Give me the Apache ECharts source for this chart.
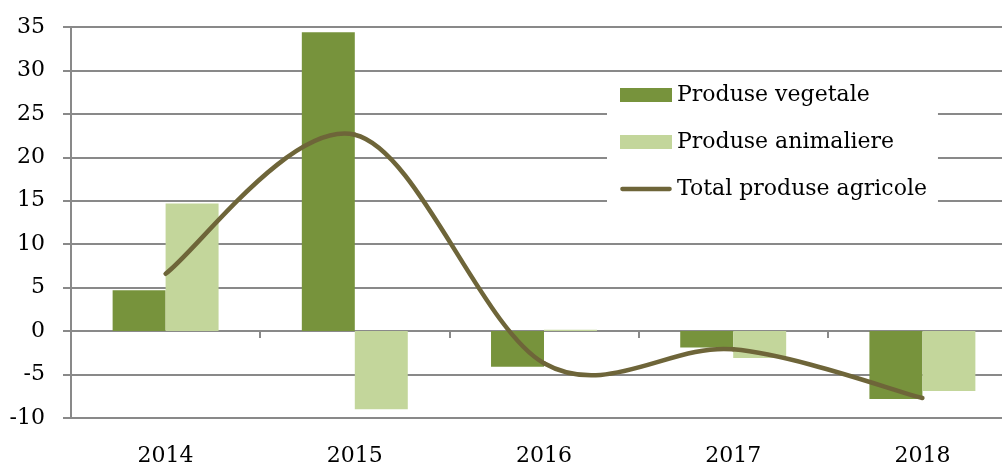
<!DOCTYPE html>
<html lang="ro">
<head>
    <meta charset="UTF-8">
    <script src="https://cdn.jsdelivr.net/npm/echarts@6/dist/echarts.min.js"></script>
    <title>Produse agricole</title>
    <style>
        html, body { margin: 0; padding: 0; background: #fff; }
    </style>
</head>
<body>
    <div id="chart" style="width: 1002px;height:463px;"></div>
</body>
<script type="text/javascript">
    // date
    var years = ['2014', '2015', '2016', '2017', '2018'];
    var vegetale = [4.7, 34.4, -4.1, -1.9, -7.8];
    var animaliere = [14.7, -9.0, 0.15, -3.1, -6.9];
    var totalAgricol = [6.6, 22.6, -3.7, -2.1, -7.7];
    var yTicks = { min: -10, max: 35, interval: 5 };

    var gridColor = '#898989';
    var lineColor = '#6e6539';
    var font = 'DejaVu Serif';

    // linia neteda ca in Excel (Catmull-Rom), punctele vin din api.coord
    function renderTotal(params, api) {
        var i = params.dataIndex;
        var n = totalAgricol.length;
        if (i >= n - 1) return null;
        function pt(k) {
            k = Math.max(0, Math.min(n - 1, k));
            return api.coord([k, totalAgricol[k]]);
        }
        var p0 = pt(i - 1), p1 = pt(i), p2 = pt(i + 1), p3 = pt(i + 2);
        var c1 = [p1[0] + (p2[0] - p0[0]) / 6, p1[1] + (p2[1] - p0[1]) / 6];
        var c2 = [p2[0] - (p3[0] - p1[0]) / 6, p2[1] - (p3[1] - p1[1]) / 6];
        return {
            type: 'bezierCurve',
            shape: {
                x1: p1[0], y1: p1[1],
                cpx1: c1[0], cpy1: c1[1],
                cpx2: c2[0], cpy2: c2[1],
                x2: p2[0], y2: p2[1]
            },
            style: { stroke: lineColor, lineWidth: 4.5, fill: null, lineCap: 'round' }
        };
    }

    var chart = echarts.init(document.getElementById('chart'));
    chart.setOption({
        animation: false,
        textStyle: { fontFamily: font },
        grid: { left: 71, width: 946, top: 27, bottom: 45, outerBoundsMode: 'none', containLabel: false },
        legend: {
            orient: 'vertical',
            left: 607,
            top: 76,
            padding: [6, 11, 11, 13],
            backgroundColor: '#fff',
            itemWidth: 52,
            itemHeight: 14,
            itemGap: 21,
            textStyle: { fontFamily: font, fontSize: 22, color: '#000', lineHeight: 26 },
            data: [
                { name: 'Produse vegetale', icon: 'rect' },
                { name: 'Produse animaliere', icon: 'rect' },
                {
                    name: 'Total produse agricole',
                    icon: 'path://M0,0 L0,0 M56,14 L56,14 M2.5,4.7 L53.5,4.7 A2.3,2.3 0 0 1 53.5,9.3 L2.5,9.3 A2.3,2.3 0 0 1 2.5,4.7 Z'
                }
            ]
        },
        xAxis: [{
            type: 'category',
            data: years,
            position: 'bottom',
            axisLine: { onZero: false, lineStyle: { color: gridColor, width: 2 } },
            axisTick: { show: false },
            axisLabel: { color: '#000', fontSize: 22, fontFamily: font, margin: 27 }
        }, {
            // axa de la zero, doar cu liniutele
            type: 'category',
            data: years,
            position: 'top',
            axisLine: { onZero: true, onZeroAxisIndex: 0, lineStyle: { color: gridColor, width: 2 } },
            axisTick: { show: true, inside: true, length: 7, lineStyle: { color: gridColor, width: 2 } },
            axisLabel: { show: false },
            splitLine: { show: false }
        }],
        yAxis: {
            type: 'value',
            min: yTicks.min,
            max: yTicks.max,
            interval: yTicks.interval,
            axisLine: { show: true, lineStyle: { color: gridColor, width: 2 } },
            axisTick: { show: true, length: 8, lineStyle: { color: gridColor, width: 2 } },
            axisLabel: { color: '#000', fontSize: 22, fontFamily: font, margin: 26 },
            splitLine: { lineStyle: { color: gridColor, width: 2 } }
        },
        series: [{
            name: 'Produse vegetale',
            type: 'bar',
            data: vegetale,
            barGap: 0,
            barCategoryGap: '44%',
            itemStyle: { color: '#77933c' }
        }, {
            name: 'Produse animaliere',
            type: 'bar',
            data: animaliere,
            barGap: 0,
            barCategoryGap: '44%',
            itemStyle: { color: '#c3d69b' }
        }, {
            name: 'Total produse agricole',
            type: 'custom',
            renderItem: renderTotal,
            data: totalAgricol.map(function (v, k) { return [k, v]; }),
            encode: { x: 0, y: 1 },
            itemStyle: { color: lineColor },
            z: 5
        }]
    });
</script>
</html>
